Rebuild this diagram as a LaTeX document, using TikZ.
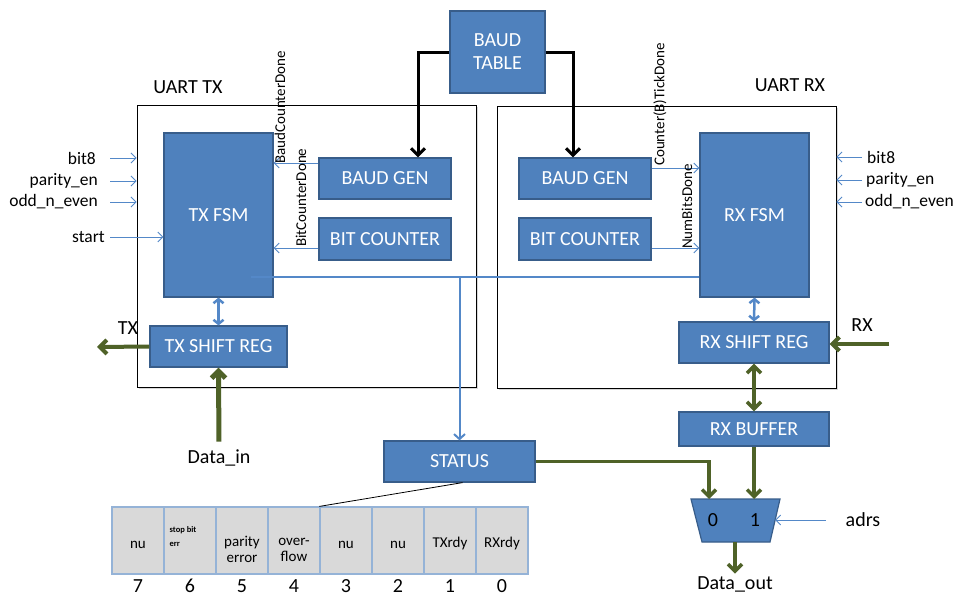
\documentclass[tikz,border=0pt]{standalone}
\usepackage{fontspec}
\setmainfont{Carlito}
\usetikzlibrary{arrows.meta,shadows}

\definecolor{blockfill}{RGB}{79,129,189}
\definecolor{blockedge}{RGB}{56,93,138}
\definecolor{sigblue}{RGB}{84,136,200}
\definecolor{busgreen}{RGB}{79,98,40}
\definecolor{cellfill}{RGB}{217,217,217}
\definecolor{celledge}{RGB}{149,179,215}

\newcommand{\fsz}[1]{\fontsize{#1}{#1}\selectfont}

\begin{document}
\begin{tikzpicture}[x=1pt,y=-1pt,
  block/.style={draw=blockedge, line width=1.2pt, fill=blockfill, text=white,
    font=\fontsize{20}{23}\selectfont, inner sep=0pt, align=center},
  uartbox/.style={draw=black, line width=0.9pt, fill=white,
    drop shadow={shadow xshift=2pt, shadow yshift=-2pt, opacity=0.3}},
  lbl/.style={font=\fsz{20}, inner sep=0pt},
  inlbl/.style={font=\fsz{17.5}, inner sep=0pt},
  siglbl/.style={font=\fsz{15}, inner sep=0pt, rotate=90, anchor=west},
  sig/.style={draw=sigblue, line width=0.9pt, -{Straight Barb[length=5pt,width=10pt]}},
  bus/.style={draw=sigblue, line width=2pt},
  link/.style={draw=sigblue, line width=2.5pt,
    {Straight Barb[length=4pt,width=10pt]}-{Straight Barb[length=4pt,width=10pt]}},
  clk/.style={draw=black, line width=3pt, -{Straight Barb[length=7pt,width=14pt]}},
  data/.style={draw=busgreen, line width=3.5pt, -{Straight Barb[length=7pt,width=14pt]}},
  datalink/.style={draw=busgreen, line width=3.5pt,
    {Straight Barb[length=7pt,width=14pt]}-{Straight Barb[length=7pt,width=14pt]}},
  cell/.style={draw=celledge, line width=1.2pt, fill=cellfill, minimum width=52pt,
    minimum height=67pt, inner sep=0pt},
  celltxt/.style={font=\fontsize{15}{16}\selectfont, inner sep=0pt, align=center},
]
% canvas
\fill[white] (0,0) rectangle (957,597);
\useasboundingbox (0,0) rectangle (957,597);

% enclosing UART frames
\node[uartbox, minimum width=339pt, minimum height=282pt] (txbox) at (306.5,246) {};
\node[uartbox, minimum width=339pt, minimum height=282pt] (rxbox) at (666.5,247) {};
\node[lbl] (txtitle) at (188,87) {UART TX};
\node[lbl] (rxtitle) at (790,85) {UART RX};

% functional blocks
\node[block, minimum width=95pt, minimum height=82pt] (baudtable) at (497.5,52) {BAUD\\TABLE};
\node[block, minimum width=109pt, minimum height=164pt] (txfsm) at (218.5,215) {TX FSM};
\node[block, minimum width=132pt, minimum height=41pt] (txbaud) at (385,178.5) {BAUD GEN};
\node[block, minimum width=132pt, minimum height=42pt] (txbit) at (385,239) {BIT COUNTER};
\node[block, minimum width=137pt, minimum height=41pt] (txshift) at (218.5,346.5) {TX SHIFT REG};
\node[block, minimum width=132pt, minimum height=41pt] (rxbaud) at (585,178.5) {BAUD GEN};
\node[block, minimum width=132pt, minimum height=42pt] (rxbit) at (585,239) {BIT COUNTER};
\node[block, minimum width=109pt, minimum height=164pt] (rxfsm) at (754.5,215) {RX FSM};
\node[block, minimum width=150pt, minimum height=41pt] (rxshift) at (754,342.5) {RX SHIFT REG};
\node[block, minimum width=150pt, minimum height=34pt] (rxbuf) at (754,429) {RX BUFFER};
\node[block, minimum width=151pt, minimum height=41pt] (status) at (459.5,461.5) {STATUS};

% output multiplexer
\coordinate (muxtl) at (691,499);
\coordinate (muxtr) at (780,499);
\coordinate (muxbr) at (770,542);
\coordinate (muxbl) at (702,542);
\filldraw[fill=blockfill, draw=blockedge, line width=1.2pt]
  (muxtl) -- (muxtr) -- (muxbr) -- (muxbl) -- cycle;
\node[lbl] (mux0) at (713,520) {0};
\node[lbl] (mux1) at (755,520) {1};
\coordinate (muxin0) at (709,499);
\coordinate (muxin1) at (754,499);
\coordinate (muxsel) at (775,520);
\coordinate (muxout) at (735,542);

% baud rate distribution
\draw[clk] (baudtable.west) -| ([xshift=33pt]txbaud.north);
\draw[clk] (baudtable.east) -| ([xshift=-12pt]rxbaud.north);

% TX internal signals
\coordinate (tbsig) at ([yshift=15.5pt]txbaud.west);
\coordinate (tcsig) at ([yshift=-9pt]txbit.west);
\draw[sig] (tbsig) -- (tbsig -| txfsm.east);
\draw[sig] (tcsig) -- (tcsig -| txfsm.east);
\node[siglbl] (lbcd) at (280,164) {BaudCounterDone};
\node[siglbl] (lbitcd) at (301,247) {BitCounterDone};

% RX internal signals
\coordinate (rbsig) at ([yshift=10.5pt]rxbaud.east);
\coordinate (rcsig) at ([yshift=-9pt]rxbit.east);
\draw[sig] (rbsig) -- (rbsig -| rxfsm.west);
\draw[sig] (rcsig) -- (rcsig -| rxfsm.west);
\node[siglbl] (lctd) at (660,166) {Counter(B)TickDone};
\node[siglbl] (lnbd) at (687,249) {NumBitsDone};

% status bus
\coordinate (busy) at (0,277);
\coordinate (busj) at (status.north |- busy);
\draw[bus] ([xshift=-23pt]txfsm.east |- busy) -- (rxfsm.west |- busy);
\draw[bus, -{Straight Barb[length=5pt,width=11pt]}] (busj) -- (status.north);

% FSM <-> shift register
\draw[link] (txfsm.south) -- (txshift.north);
\draw[link] (rxfsm.south) -- (rxshift.north);

% TX configuration inputs
\node[inlbl, anchor=east] (tbit8) at (96,158) {bit8};
\node[inlbl, anchor=east] (tpar) at (98,181) {parity\_en};
\node[inlbl, anchor=east] (todd) at (98,202) {odd\_n\_even};
\node[inlbl, anchor=east] (tstart) at (105,237) {start};
\draw[sig] ([xshift=14pt]tbit8.east) -- (tbit8 -| txbox.west);
\draw[sig] ([xshift=12pt]tpar.east) -- (tpar -| txbox.west);
\draw[sig] ([xshift=12pt]todd.east) -- (todd -| txbox.west);
\draw[sig] ([xshift=5pt]tstart.east) -- (tstart -| txfsm.west);

% RX configuration inputs
\node[inlbl, anchor=west] (rbit8) at (867,157) {bit8};
\node[inlbl, anchor=west] (rpar) at (866,180) {parity\_en};
\node[inlbl, anchor=west] (rodd) at (865,202) {odd\_n\_even};
\draw[sig] ([xshift=-5pt]rbit8.west) -- (rbit8 -| rxbox.east);
\draw[sig] ([xshift=-4pt]rpar.west) -- (rpar -| rxbox.east);
\draw[sig] ([xshift=-3pt]rodd.west) -- (rodd -| rxbox.east);

% serial lines and data paths
\node[lbl] (txlbl) at (128,328) {TX};
\node[lbl] (rxlbl) at (862,325) {RX};
\coordinate (txout) at (97,347);
\coordinate (rxin) at (889,344);
\draw[data, line width=4pt] (txshift.west) -- (txout);
\draw[data, line width=4pt] (rxin) -- (rxin -| rxshift.east);

\node[lbl] (datain) at (219,458) {Data\_in};
\draw[data, line width=5pt, shorten <=8pt] (datain.north) -- (txshift.south);
\draw[datalink] (rxshift.south) -- (rxbuf.north);
\draw[data] (rxbuf.south) -- (muxin1);
\draw[data] (status.east) -| (muxin0);

\node[lbl] (dataout) at (735,584.5) {Data\_out};
\draw[data, shorten >=3pt] (muxout) -- (dataout.north);

\node[lbl] (adrs) at (863,520) {adrs};
\draw[sig] ([xshift=-20pt]adrs.west) -- (muxsel);

% status register layout
\foreach \b [count=\i from 0] in {7,6,5,4,3,2,1,0} {
  \node[cell] (c\b) at (138+52*\i,540.5) {};
  \node[lbl] (n\b) at ([yshift=-11.5pt]c\b.south) {\b};
}
\node[celltxt] (t7) at ([yshift=-4.5pt]c7.center) {nu};
\node[font=\fontsize{8.5}{14}\selectfont\bfseries, inner sep=0pt, align=left,
  anchor=north west] (t6) at ([xshift=6pt,yshift=-20pt]c6.north west) {stop bit\\err};
\node[celltxt] (t5) at ([yshift=-9pt]c5.center) {parity\\error};
\node[celltxt] (t4) at ([yshift=-9pt]c4.center) {over-\\flow};
\node[celltxt] (t3) at ([yshift=-4.5pt]c3.center) {nu};
\node[celltxt] (t2) at ([yshift=-4.5pt]c2.center) {nu};
\node[celltxt] (t1) at ([yshift=-2.5pt]c1.center) {TXrdy};
\node[celltxt] (t0) at ([yshift=-2.5pt]c0.center) {RXrdy};
\draw[black, line width=0.8pt] ([xshift=3pt]status.south) -- (c3.north west);
\end{tikzpicture}
\end{document}
